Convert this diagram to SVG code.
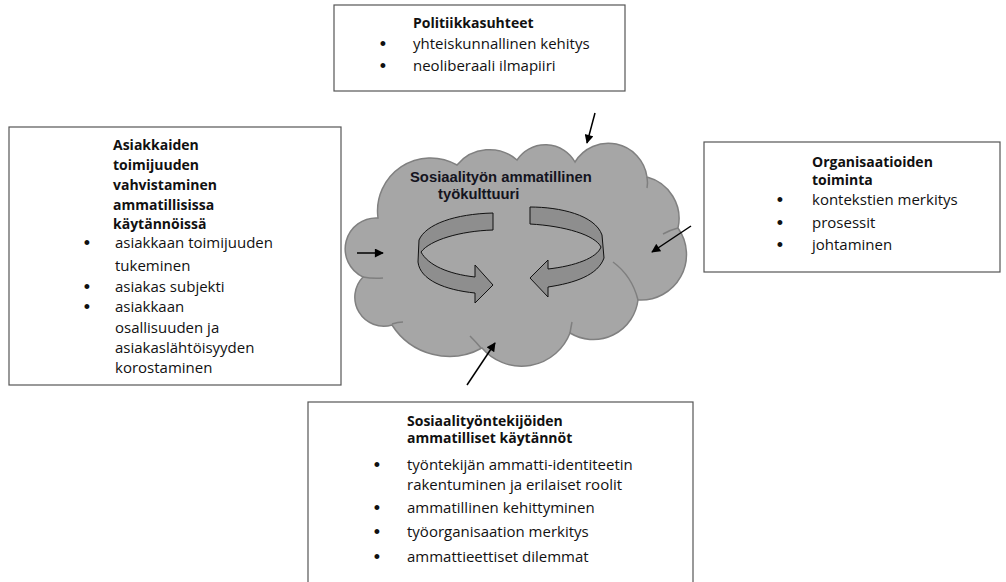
<svg xmlns="http://www.w3.org/2000/svg" width="1006" height="582" viewBox="0 0 1006 582">
<style>
.box{fill:#fff;stroke:#555;stroke-width:1.2}
.t{font-family:"Open Sans","Noto Sans",sans-serif;font-size:15px;fill:#111}
.b{font-weight:bold;font-size:14px}
.bu{font-family:"Liberation Sans",sans-serif;font-size:18px;fill:#111;text-anchor:middle}
.cl{font-family:"Liberation Sans",Arial,sans-serif;font-size:14.8px;font-weight:bold;fill:#14141e}
.conn{stroke:#000;stroke-width:1.5;fill:none;marker-end:url(#ah)}
.rib{fill:#8e8e8e;stroke:#111;stroke-width:1}
.crease{fill:none;stroke:#7f7f7f;stroke-width:1.5}
</style>
<defs>
<marker id="ah" viewBox="0 0 10 10" refX="9" refY="5" markerWidth="10" markerHeight="9" markerUnits="userSpaceOnUse" orient="auto">
<path d="M0,0 L10,5 L0,10 Z" fill="#000"/>
</marker>
</defs>
<rect width="1006" height="582" fill="#fff"/>

<g id="cloud">
<path d="M378,218 A53,53 0 0 1 457,165 A42,42 0 0 1 517,160 A34,34 0 0 1 575,162 A39,39 0 0 1 647,177 A43,43 0 0 1 678,228 A45.6,45.6 0 0 1 638,300 A45,45 0 0 1 570,333 A52,52 0 0 1 482,348 A68,68 0 0 1 392,325 A29,29 0 0 1 363,277 A31,31 0 0 1 378,218 Z" fill="#a6a6a6" stroke="#808080" stroke-width="1.5"/>
<path class="crease" d="M363,277 Q373,279 383,278"/>
<path class="crease" d="M392,324 Q398,322 403,322"/>
<path class="crease" d="M470,336 Q476,342 481,348"/>
<path class="crease" d="M570,333 Q571,327 572,322"/>
<path class="crease" d="M613,262 Q632,276 638,300"/>
<path class="crease" d="M678,228 Q670,230 663,234"/>
<path class="crease" d="M647,177 Q648,183 647,188"/>
<text class="cl" x="410" y="182">Sosiaalityön ammatillinen</text>
<text class="cl" x="438" y="199">työkulttuuri</text>
<path class="rib" d="M493,213 C455,214 426,224 419,240 L418,262 C420,280 445,290 475,293 L475,303 L493,285 L475,265 L475,277 C448,274 428,265 421,252 C430,240 460,231 493,230 Z"/>
<path class="rib" d="M530,207 C560,207 595,215 602,235 L604,258 C598,275 575,283 548,287 L548,297 L530,278 L548,260 L548,269 C575,266 597,258 601,247 C595,235 565,226 530,224 Z"/>
</g>

<g id="politiikka">
<rect class="box" x="334" y="5" width="291" height="86"/>
<text class="t b" x="413" y="28">Politiikkasuhteet</text>
<text class="bu" x="383" y="50">•</text>
<text class="t" x="413" y="49">yhteiskunnallinen kehitys</text>
<text class="bu" x="383" y="72">•</text>
<text class="t" x="413" y="71">neoliberaali ilmapiiri</text>
</g>

<g id="asiakkaat">
<rect class="box" x="9" y="127" width="332" height="258"/>
<text class="t b" x="113" y="150">Asiakkaiden</text>
<text class="t b" x="113" y="170">toimijuuden</text>
<text class="t b" x="113" y="190">vahvistaminen</text>
<text class="t b" x="113" y="210">ammatillisissa</text>
<text class="t b" x="113" y="229">käytännöissä</text>
<text class="bu" x="87" y="249">•</text>
<text class="t" x="115" y="248">asiakkaan toimijuuden</text>
<text class="t" x="115" y="271">tukeminen</text>
<text class="bu" x="87" y="293">•</text>
<text class="t" x="115" y="292">asiakas subjekti</text>
<text class="bu" x="87" y="313">•</text>
<text class="t" x="115" y="312">asiakkaan</text>
<text class="t" x="115" y="333">osallisuuden ja</text>
<text class="t" x="115" y="353">asiakaslähtöisyyden</text>
<text class="t" x="115" y="373">korostaminen</text>
</g>

<g id="organisaatiot">
<rect class="box" x="704" y="142" width="296" height="130"/>
<text class="t b" x="812" y="167">Organisaatioiden</text>
<text class="t b" x="812" y="185">toiminta</text>
<text class="bu" x="780" y="206">•</text>
<text class="t" x="812" y="205">kontekstien merkitys</text>
<text class="bu" x="780" y="229">•</text>
<text class="t" x="812" y="228">prosessit</text>
<text class="bu" x="780" y="251">•</text>
<text class="t" x="812" y="250">johtaminen</text>
</g>

<g id="kaytannot">
<rect class="box" x="308" y="402" width="385" height="190"/>
<text class="t b" x="407" y="426">Sosiaalityöntekijöiden</text>
<text class="t b" x="407" y="443">ammatilliset käytännöt</text>
<text class="bu" x="377" y="471">•</text>
<text class="t" x="407" y="470">työntekijän ammatti-identiteetin</text>
<text class="t" x="407" y="490">rakentuminen ja erilaiset roolit</text>
<text class="bu" x="377" y="514">•</text>
<text class="t" x="407" y="513">ammatillinen kehittyminen</text>
<text class="bu" x="377" y="538">•</text>
<text class="t" x="407" y="537">työorganisaation merkitys</text>
<text class="bu" x="377" y="563">•</text>
<text class="t" x="407" y="562">ammattieettiset dilemmat</text>
</g>

<g id="connectors">
<line class="conn" x1="595" y1="113" x2="587" y2="143"/>
<line class="conn" x1="357" y1="253" x2="383" y2="253"/>
<line class="conn" x1="691" y1="226" x2="652" y2="252"/>
<line class="conn" x1="467" y1="385" x2="495" y2="343"/>
</g>
</svg>
